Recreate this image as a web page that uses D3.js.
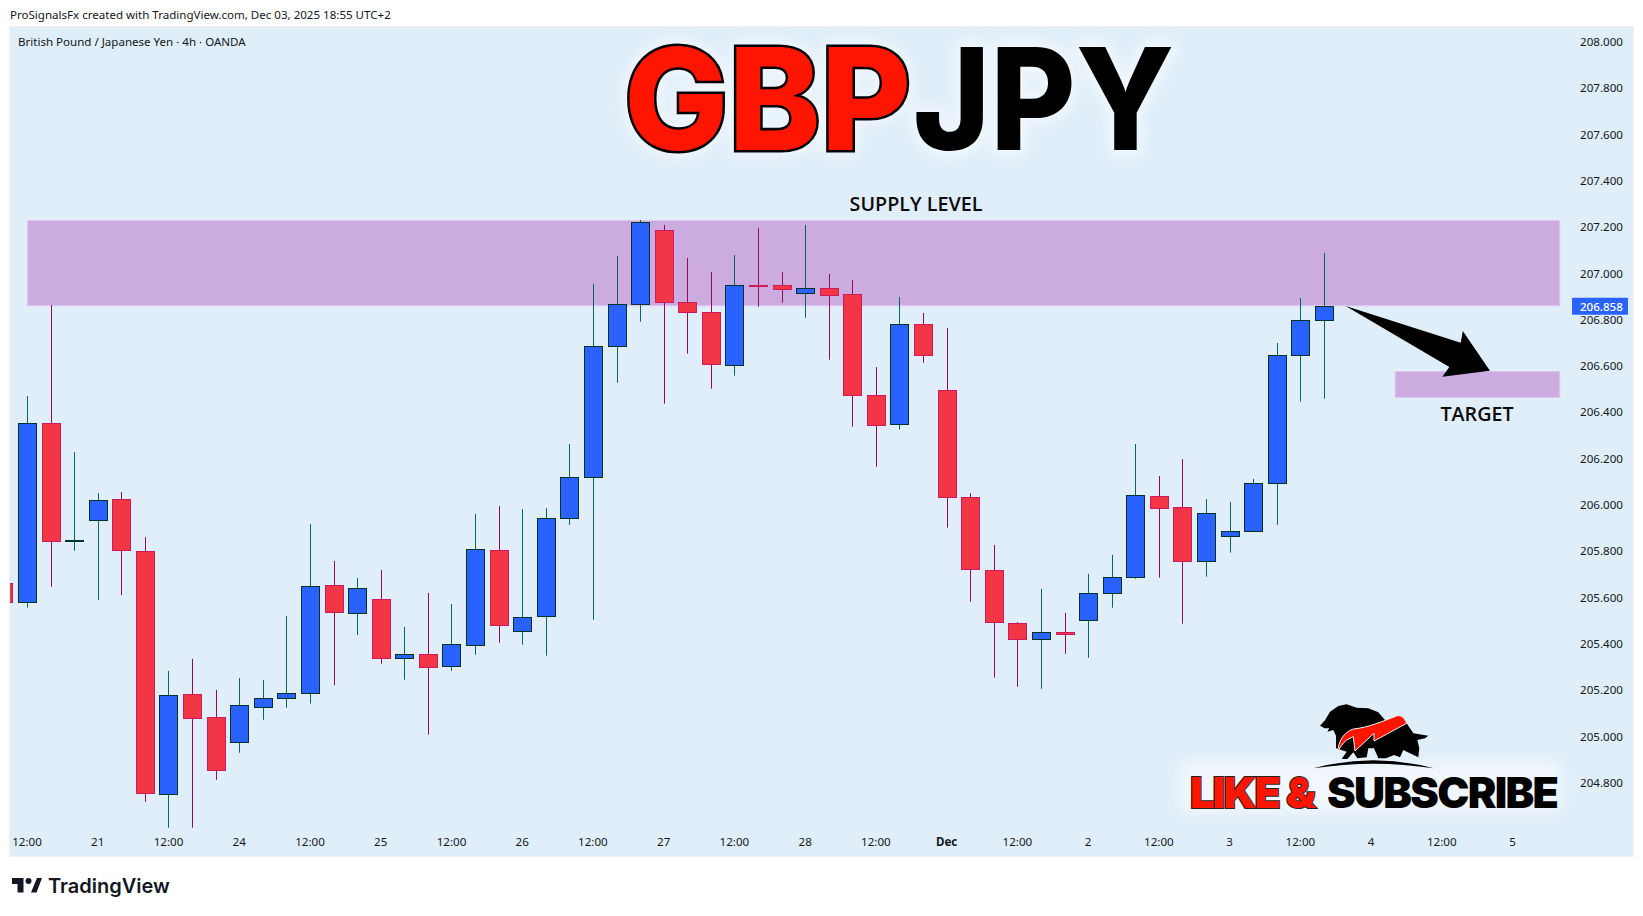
<!DOCTYPE html>
<html lang="en">
	<head>
		<meta charset="UTF-8" />
		<title>GBPJPY</title>
		<script src="https://d3js.org/d3.v7.min.js"></script>
		<style>
			html, body {
				margin: 0;
				background: #fff;
			}
			svg {
				display: block;
			}
			.small {
				font-family: 'Noto Sans', sans-serif;
				font-size: 11.55px;
				fill: #131722;
			}
			.axis text {
				font-family: 'Noto Sans', sans-serif;
				font-size: 11.6px;
				fill: #131722;
			}
			.axis path, .axis line {
				display: none;
			}
			.note {
				font-family: 'Open Sans', sans-serif;
				font-size: 19.7px;
				font-weight: 600;
				fill: #0b0b0b;
				text-anchor: middle;
			}
			.big {
				font-family: Inter, sans-serif;
				font-weight: 800;
				font-size: 141px;
				paint-order: stroke;
			}
			.badge {
				font-family: Inter, sans-serif;
				font-weight: 900;
				font-size: 43px;
				letter-spacing: -1.7px;
				paint-order: stroke;
			}
		</style>
	</head>
	<body>
		<svg id="chart" width="1643" height="916"></svg>
		<script>
			// bars are 4h, first one is the cut off candle at the left edge
			const opens = [205.663, 205.579, 206.352, 205.843, 205.933, 206.024, 205.8, 204.75, 205.182, 205.083, 204.975, 205.126, 205.165, 205.186, 205.653, 205.532, 205.592, 205.338, 205.355, 205.303, 205.394, 205.804, 205.454, 205.519, 205.942, 206.119, 206.685, 206.866, 207.186, 206.875, 206.832, 206.603, 206.948, 206.948, 206.914, 206.935, 206.909, 206.473, 206.348, 206.78, 206.495, 206.033, 205.717, 205.489, 205.42, 205.45, 205.502, 205.618, 205.687, 206.037, 205.99, 205.756, 205.864, 205.886, 206.093, 206.646, 206.797];
			const highs = [205.663, 206.47, 206.863, 206.228, 206.051, 206.056, 205.861, 205.283, 205.335, 205.201, 205.252, 205.244, 205.52, 205.917, 205.758, 205.684, 205.719, 205.473, 205.62, 205.572, 205.961, 205.995, 205.982, 205.987, 206.263, 206.954, 207.075, 207.23, 207.209, 207.066, 207.006, 207.079, 207.196, 207.006, 207.209, 206.997, 206.971, 206.595, 206.898, 206.829, 206.764, 206.051, 205.827, 205.494, 205.637, 205.533, 205.702, 205.784, 206.263, 206.125, 206.198, 206.025, 206.012, 206.112, 206.699, 206.893, 207.088];
			const lows = [205.579, 205.556, 205.647, 205.802, 205.589, 205.611, 204.718, 204.606, 204.606, 204.813, 204.93, 205.072, 205.124, 205.142, 205.222, 205.438, 205.314, 205.245, 205.008, 205.283, 205.353, 205.405, 205.396, 205.349, 205.914, 205.504, 206.528, 206.791, 206.437, 206.653, 206.502, 206.558, 206.856, 206.873, 206.808, 206.627, 206.338, 206.165, 206.325, 206.614, 205.902, 205.582, 205.254, 205.215, 205.206, 205.357, 205.34, 205.556, 205.681, 205.686, 205.487, 205.69, 205.794, 205.886, 205.914, 206.446, 206.459];
			const closes = [205.579, 206.352, 205.843, 205.847, 206.02, 205.804, 204.755, 205.178, 205.078, 204.854, 205.135, 205.165, 205.186, 205.648, 205.536, 205.64, 205.338, 205.355, 205.299, 205.398, 205.808, 205.48, 205.515, 205.942, 206.119, 206.685, 206.866, 207.22, 206.875, 206.832, 206.607, 206.948, 206.947, 206.931, 206.935, 206.905, 206.473, 206.344, 206.78, 206.646, 206.033, 205.722, 205.493, 205.42, 205.45, 205.441, 205.618, 205.687, 206.041, 205.985, 205.756, 205.964, 205.886, 206.093, 206.646, 206.797, 206.858];

			const priceTicks = [208, 207.8, 207.6, 207.4, 207.2, 207, 206.8, 206.6, 206.4, 206.2, 206, 205.8, 205.6, 205.4, 205.2, 205, 204.8];
			const timeLabels = ['12:00', '21', '12:00', '24', '12:00', '25', '12:00', '26', '12:00', '27', '12:00', '28', '12:00', 'Dec', '12:00', '2', '12:00', '3', '12:00', '4', '12:00', '5'];
			const lastPrice = 206.858;

			// zones and arrow in bar / price terms, bar 1 is the 12:00 tick on the left
			const supplyZone = { from: 1, to: 66, top: 207.228, bottom: 206.86 };
			const targetZone = { from: 59, to: 66, top: 206.576, bottom: 206.464 };
			const arrowShape = [
				[56.9, 206.859],
				[61.78, 206.7],
				[61.87, 206.751],
				[63.02, 206.579],
				[61.0, 206.553],
				[61.3, 206.595]
			];

			const svg = d3.select('#chart');
			const x = d3.scaleLinear().domain([1, 66]).range([27.5, 1560.2]);
			const y = d3.scaleLinear().domain([208, 204.8]).range([41.7, 782.8]);
			const cx = (i) => Math.floor(x(i)) + 0.5;
			const cy = (v) => Math.round(y(v)) + 0.5;

			const defs = svg.append('defs');
			defs.append('clipPath').attr('id', 'plot').append('rect').attr('x', 10).attr('y', 26).attr('width', 1623).attr('height', 830);
			defs.append('filter').attr('id', 'soft').attr('x', '-20%').attr('y', '-40%').attr('width', '140%').attr('height', '180%')
				.append('feGaussianBlur').attr('stdDeviation', 7);

			// panel
			svg.append('rect').attr('x', 9.5).attr('y', 26.5).attr('width', 1624).attr('height', 830)
				.attr('fill', '#e0eef9').attr('stroke', '#eef2f7');

			// zones sit under the candles
			[supplyZone, targetZone].forEach((z) => {
				svg.append('rect')
					.attr('x', x(z.from))
					.attr('y', y(z.top))
					.attr('width', x(z.to) - x(z.from) - 0.5)
					.attr('height', y(z.bottom) - y(z.top))
					.attr('fill', '#ccace0')
					.attr('stroke', '#dfc6f2');
			});

			// candles
			const candles = svg.append('g').attr('clip-path', 'url(#plot)')
				.selectAll('g').data(opens).enter().append('g');
			candles.append('line')
				.attr('x1', (d, i) => cx(i)).attr('x2', (d, i) => cx(i))
				.attr('y1', (d, i) => y(highs[i])).attr('y2', (d, i) => y(lows[i]))
				.attr('stroke', (d, i) => (closes[i] >= d ? '#00695c' : '#930a57'));
			candles.append('rect')
				.attr('x', (d, i) => cx(i) - 9)
				.attr('width', 18)
				.attr('y', (d, i) => cy(Math.max(d, closes[i])))
				.attr('height', (d, i) => Math.max(0, cy(Math.min(d, closes[i])) - cy(Math.max(d, closes[i]))))
				.attr('fill', (d, i) => (closes[i] >= d ? '#2962ff' : '#f23645'))
				.attr('stroke', (d, i) => (closes[i] >= d ? '#00332b' : '#cf1a5c'));

			// axes
			const priceAxis = d3.axisRight(y).tickValues(priceTicks).tickSize(0).tickPadding(0).tickFormat(d3.format('.3f'));
			svg.append('g').attr('class', 'axis').attr('transform', 'translate(1580,0)').call(priceAxis);

			const timeAxis = d3.axisBottom(x)
				.tickValues(timeLabels.map((d, i) => 1 + i * 3))
				.tickSize(0).tickPadding(0)
				.tickFormat((d, i) => timeLabels[i]);
			const timeG = svg.append('g').attr('class', 'axis').attr('transform', 'translate(-1,838)').call(timeAxis);
			timeG.selectAll('text').style('font-weight', (d, i) => (timeLabels[i] === 'Dec' ? 700 : 400));

			// last price tag
			svg.append('rect').attr('x', 1572).attr('y', y(lastPrice) - 8.5).attr('width', 56).attr('height', 17).attr('rx', 1).attr('fill', '#2962ff');
			svg.append('text').attr('class', 'small').attr('x', 1580).attr('y', y(lastPrice) + 4.5).style('fill', '#fff').style('font-weight', 500).text(d3.format('.3f')(lastPrice));

			// header and legend
			svg.append('text').attr('class', 'small').attr('x', 10).attr('y', 19).text('ProSignalsFx created with TradingView.com, Dec 03, 2025 18:55 UTC+2');
			svg.append('text').attr('class', 'small').attr('x', 18).attr('y', 46).text('British Pound / Japanese Yen · 4h · OANDA');

			// notes
			svg.append('text').attr('class', 'note').attr('x', 916).attr('y', 211).text('SUPPLY LEVEL');
			svg.append('text').attr('class', 'note').attr('x', 1477).attr('y', 421).text('TARGET');

			// arrow
			svg.append('polygon')
				.attr('points', arrowShape.map((p) => [x(p[0]), y(p[1])].join(',')).join(' '))
				.attr('fill', '#000');

			// big title with a pale halo behind it, JPY is squeezed to fit
			const title = svg.append('g');
			const gbpPos = 'translate(624,149.5) scale(0.985,1)';
			const jpyPos = 'translate(913,149.5) scale(0.93,1)';
			[['GBP', gbpPos], ['JPY', jpyPos]].forEach((t) => {
				title.append('text').attr('class', 'big').attr('transform', t[1])
					.attr('fill', '#fff').attr('stroke', '#fff').attr('stroke-width', 10).attr('filter', 'url(#soft)').attr('opacity', 0.6).text(t[0]);
			});
			title.append('text').attr('class', 'big').attr('transform', gbpPos)
				.attr('fill', '#ff1500').attr('stroke', '#000').attr('stroke-width', 5).text('GBP');
			title.append('text').attr('class', 'big').attr('transform', jpyPos)
				.attr('fill', '#000').text('JPY');

			// subscribe badge
			const badge = svg.append('g');
			badge.append('rect').attr('x', 1180).attr('y', 762).attr('width', 380).attr('height', 50).attr('fill', '#fff').attr('opacity', 0.55).attr('filter', 'url(#soft)');
			badge.append('text').attr('class', 'badge').attr('x', 1190).attr('y', 808)
				.attr('fill', '#ff1500').attr('stroke', '#222').attr('stroke-width', 2).text('LIKE &');
			badge.append('text').attr('class', 'badge').attr('x', 1327).attr('y', 808)
				.attr('fill', '#000').text('SUBSCRIBE');

			// bear and bull mark, drawn in a 450x240 box
			const mark = badge.append('g').attr('transform', 'translate(1300,695) scale(0.3333)');
			mark.append('path').attr('fill', '#000').attr('d',
				'M60 92 L75 76 L90 50 L115 33 L140 28 L170 38 L205 40 L235 52 L255 75 L300 70 L320 85 L340 115 L385 122 L375 130 L352 135 L358 160 L355 187 L330 175 L310 165 L300 187 L282 180 L258 190 L235 190 L222 160 L205 160 L200 187 L172 190 L160 172 L142 192 L125 192 L140 170 L108 160 L108 122 L100 105 L82 110 L88 100 L74 100 Z');
			mark.append('path').attr('fill', '#ff1500').attr('stroke', '#f2f2f2').attr('stroke-width', 3).attr('d',
				'M113 172 C115 140 130 112 160 102 C205 98 250 78 292 62 C305 60 315 70 320 85 L222 138 L222 115 L165 168 L160 125 L140 135 C128 145 118 158 113 172 Z');
			mark.append('path').attr('fill', '#000').attr('d', 'M40 220 Q220 172 402 220 Q220 192 40 220 Z');

			// tradingview footer
			const tv = svg.append('g');
			tv.append('path').attr('fill', '#131722').attr('d', 'M12 878 H23.5 V892.5 H17.5 V884 H12 Z M31 892.5 L37 878 H42 L36.5 892.5 Z');
			tv.append('circle').attr('cx', 28.5).attr('cy', 881).attr('r', 3).attr('fill', '#131722');
			tv.append('text').attr('x', 48).attr('y', 892.5).attr('font-family', 'Inter, sans-serif').attr('font-weight', 600).attr('font-size', 20).attr('fill', '#131722').text('TradingView');
		</script>
	</body>
</html>
